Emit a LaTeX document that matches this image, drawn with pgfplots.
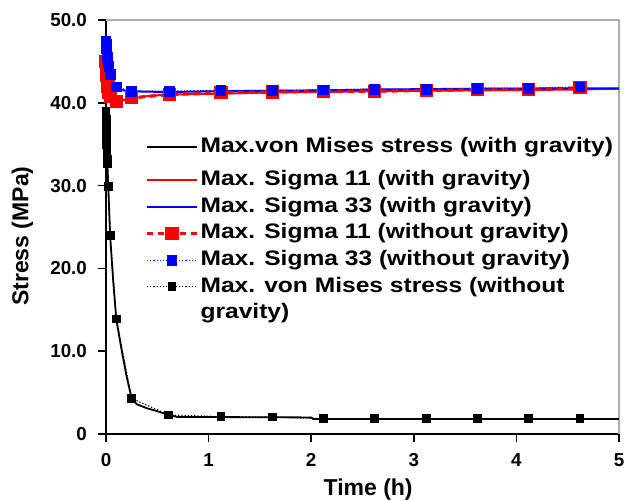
\documentclass[border=0pt]{standalone}
\usepackage{fontspec}
\setmainfont{Liberation Sans}
\newfontfamily\legendfont[FakeStretch=1.17]{Liberation Sans}
\usepackage{pgfplots}
\pgfplotsset{compat=1.18}

\definecolor{framegray}{RGB}{175,175,175}
\definecolor{sred}{RGB}{255,0,0}
\definecolor{sblue}{RGB}{0,0,255}

\begin{document}
\begin{tikzpicture}
\begin{axis}[
  name=ax,
  scale only axis,
  width=256.5pt, height=207pt,
  xmin=0, xmax=5, ymin=0, ymax=50,
  axis x line*=bottom, axis y line*=left,
  axis line style={-, line width=0.8pt, black},
  xtick={0,1,2,3,4,5}, xticklabels={0,1,2,3,4,5},
  ytick={0,10,20,30,40,50}, yticklabels={0,10.0,20.0,30.0,40.0,50.0},
  tick align=outside, major tick length=4pt,
  tick style={black, line width=0.8pt},
  tick label style={font=\fontsize{9.4}{11}\selectfont\bfseries},
  xticklabel style={yshift=-2pt},
  yticklabel style={xshift=-2pt},
  xlabel={Time (h)}, ylabel={Stress (MPa)},
  label style={font=\fontsize{11.5}{13}\selectfont\bfseries},
  xlabel style={at={(axis description cs:0.511,-0.134)}, anchor=center},
  ylabel style={at={(axis description cs:-0.163,0.478)}, anchor=center},
  clip=false,
  legend style={draw=none, fill=none, inner sep=0pt,
    at={(axis description cs:0.076,0.741)}, anchor=north west,
    font=\legendfont\fontsize{10.5}{13.3}\selectfont\bfseries,
    nodes={inner sep=0pt, text height=9.3pt, text depth=4pt},
    column sep=1pt, row sep=0pt},
  legend cell align=left,
  legend image code/.code={\draw[mark repeat=2, mark phase=2, #1]
    plot coordinates {(0pt,0pt) (12.5pt,0pt) (25pt,0pt)};},
]
% top and right frame in light grey
\draw[framegray, line width=0.6pt] (rel axis cs:0,1) -- (rel axis cs:1,1) -- (rel axis cs:1,0);

% von Mises, with gravity
\addplot[black, line width=0.9pt,
  legend image code/.code={\draw[##1] (0pt,0pt) -- (25pt,0pt);
    \path[draw=none, fill=none] (0pt,-9.85pt) rectangle (0pt,9.85pt);}] coordinates {
  (0,38.8)(0.005,34)(0.012,33)(0.022,30)(0.04,24)(0.07,18.5)(0.1,13.9)
  (0.15,10.3)(0.2,7.0)(0.25,4.3)(0.3,3.6)(0.4,3.1)(0.5,2.75)(0.6,2.35)
  (0.7,2.05)(1.0,2.05)(2.0,2.0)(2.02,1.8)(5,1.8)
};
\addlegendentry{Max.von Mises stress (with gravity)}

% Sigma 11, with gravity
\addplot[sred, line width=1pt] coordinates {
  (0,44.8)(0.005,43.8)(0.01,43.0)(0.02,42.0)(0.03,41.2)(0.05,40.6)(0.08,40.3)
  (0.15,40.3)(0.25,40.5)(0.4,40.8)(0.6,41.0)(1.1,41.1)(1.6,41.25)(2.1,41.3)
  (2.6,41.4)(3.1,41.45)(3.6,41.5)(4.1,41.55)(4.6,41.6)(5,41.7)
};
\addlegendentry{Max. Sigma 11 (with gravity)}

% Sigma 33, with gravity
\addplot[sblue, line width=1pt] coordinates {
  (0,47.0)(0.01,46.0)(0.02,45.0)(0.03,44.2)(0.045,43.2)(0.07,42.3)(0.1,41.8)
  (0.2,41.4)(0.6,41.3)(1.1,41.4)(1.6,41.45)(2.1,41.5)(2.6,41.6)(3.1,41.65)
  (3.6,41.7)(4.1,41.72)(4.6,41.75)(5,41.75)
};
\addlegendentry{Max. Sigma 33 (with gravity)}

% Sigma 11, without gravity
\addplot[sred, line width=1.6pt, dash pattern=on 3pt off 2.5pt,
  mark=square*, mark size=2.5pt, mark options={solid}] coordinates {
  (0,45.0)(0.003,44.5)(0.006,44.0)(0.01,43.3)(0.015,42.6)(0.02,42.0)(0.03,41.3)
  (0.045,40.8)(0.1,40.2)(0.25,40.6)(0.62,41.0)(1.12,41.2)(1.62,41.3)(2.12,41.4)
  (2.62,41.4)(3.12,41.5)(3.62,41.6)(4.12,41.6)(4.62,41.8)
};
\addlegendentry{Max. Sigma 11 (without gravity)}

% Sigma 33, without gravity
\addplot[sblue, line width=0.6pt, densely dotted,
  mark=square*, mark size=2.4pt, mark options={solid}] coordinates {
  (0,47.4)(0.003,47.0)(0.006,46.5)(0.01,46.0)(0.015,45.5)(0.02,45.0)(0.03,44.4)
  (0.045,43.4)(0.1,41.9)(0.25,41.4)(0.62,41.4)(1.12,41.5)(1.62,41.5)(2.12,41.55)
  (2.62,41.65)(3.12,41.65)(3.62,41.75)(4.12,41.75)(4.62,41.9)
};
\addlegendentry{Max. Sigma 33 (without gravity)}

% von Mises, without gravity
\addplot[black, line width=0.6pt, densely dotted,
  mark=square*, mark size=1.9pt, mark options={solid}] coordinates {
  (0,39.0)(0.002,38.0)(0.004,37.0)(0.006,36.0)(0.008,35.0)(0.01,34.0)(0.012,33.2)
  (0.014,32.7)(0.022,29.9)(0.04,24.0)(0.1,13.9)(0.25,4.3)(0.61,2.3)(1.12,2.1)
  (1.62,2.05)(2.12,1.85)(2.62,1.85)(3.12,1.85)(3.62,1.85)(4.12,1.85)(4.62,1.85)
};
\addlegendentry{\vtop{\hbox{Max. von Mises stress (without}\hbox{gravity)}}}
\end{axis}
\pgfresetboundingbox
\path[use as bounding box] ([xshift=-53pt,yshift=-33.5pt]ax.south west)
  rectangle ([xshift=5pt,yshift=10pt]ax.north east);
\end{tikzpicture}
\end{document}
